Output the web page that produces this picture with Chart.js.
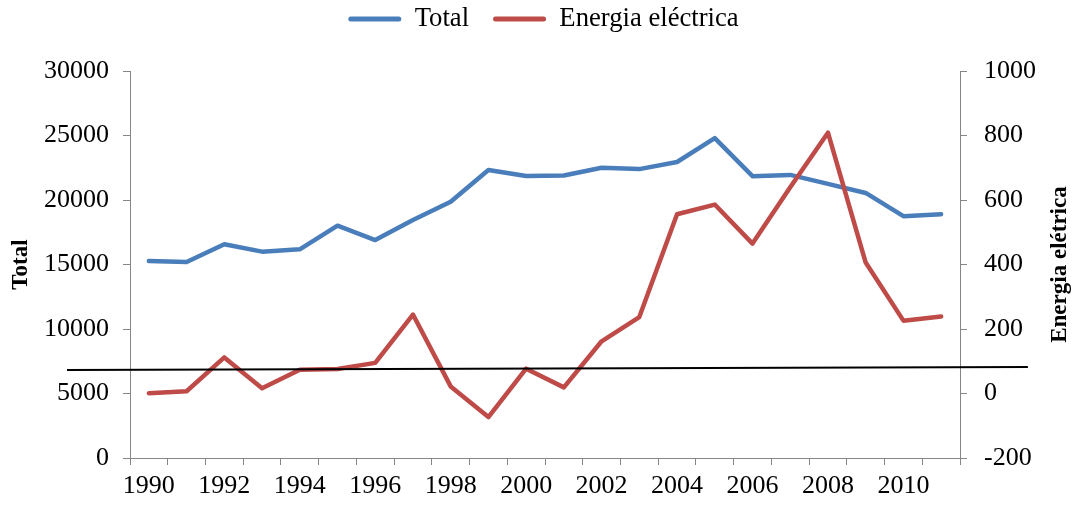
<!DOCTYPE html>
<html>
<head>
<meta charset="utf-8">
<script src="https://cdn.jsdelivr.net/npm/chart.js@4/dist/chart.umd.min.js"></script>
<style>
    html, body { margin: 0; padding: 0; background: #fff; }
    #wrap { width: 1074px; height: 505px; }
</style>
</head>
<body>
<div id="wrap"><canvas id="myChart"></canvas></div>
<script>
const years = ['1990', '1991', '1992', '1993', '1994', '1995', '1996', '1997', '1998', '1999', '2000',
    '2001', '2002', '2003', '2004', '2005', '2006', '2007', '2008', '2009', '2010', '2011'];
const total = [15270, 15190, 16570, 16000, 16180, 18010, 16900, 18450, 19870, 22330, 21860,
    21900, 22500, 22400, 22950, 24800, 21850, 21950, 21250, 20550, 18750, 18900];
const energia = [1, 7, 112, 16, 74, 76, 95, 245, 22, -73, 77,
    19, 162, 237, 556, 586, 465, 640, 809, 406, 226, 239];
// black reference line (x in category index units, y on the Total axis)
const refLineX = [-2.17, 23.3];
const refLineY = [6820, 7050];

const leftTicks = { min: 0, max: 30000, step: 5000 };
const rightTicks = { min: -200, max: 1000, step: 200 };

const serif = 'Liberation Serif, Times New Roman, serif';
const axisGray = '#868686';

// right axis title reads bottom-to-top like the left one
const rightTitle = {
    id: 'rightTitle',
    afterDraw(chart) {
        const ctx = chart.ctx;
        const area = chart.chartArea;
        ctx.save();
        ctx.translate(1060, (area.top + area.bottom) / 2);
        ctx.rotate(-Math.PI / 2);
        ctx.font = 'bold 23px ' + serif;
        ctx.fillStyle = '#000';
        ctx.textAlign = 'center';
        ctx.textBaseline = 'middle';
        ctx.fillText('Energia elétrica', 0, 0);
        ctx.restore();
    }
};

const plainNumber = value => String(value);

document.addEventListener('DOMContentLoaded', function() {
    const ctx = document.querySelector('#myChart').getContext('2d');
    new Chart(ctx, {
        type: 'line',
        data: {
            labels: years,
            datasets: [{
                label: 'Total',
                data: total,
                yAxisID: 'y',
                borderColor: '#4A7EBB',
                backgroundColor: '#4A7EBB',
                borderWidth: 4.5,
                pointRadius: 0,
                borderJoinStyle: 'round',
                borderCapStyle: 'round',
                tension: 0,
                order: 3
            }, {
                label: 'Energia eléctrica',
                data: energia,
                yAxisID: 'y2',
                borderColor: '#BE4B48',
                backgroundColor: '#BE4B48',
                borderWidth: 4.5,
                pointRadius: 0,
                borderJoinStyle: 'round',
                borderCapStyle: 'round',
                tension: 0,
                order: 2
            }, {
                label: 'ref',
                data: refLineX.map((x, i) => ({ x: x, y: refLineY[i] })),
                xAxisID: 'xLine',
                yAxisID: 'y',
                borderColor: '#000',
                borderWidth: 2,
                pointRadius: 0,
                clip: false,
                order: 1
            }]
        },
        options: {
            responsive: true,
            maintainAspectRatio: false,
            animation: false,
            layout: { padding: { top: -18.3, left: 13, right: 0, bottom: 0 } },
            plugins: {
                tooltip: { enabled: false },
                legend: {
                    position: 'top',
                    labels: {
                        font: { family: serif, size: 26.67 },
                        color: '#000',
                        boxWidth: 53,
                        boxHeight: 5,
                        padding: 24,
                        filter: item => item.datasetIndex < 2,
                        sort: (a, b) => a.datasetIndex - b.datasetIndex,
                        generateLabels(chart) {
                            return Chart.defaults.plugins.legend.labels.generateLabels(chart).map(l => {
                                l.lineWidth = 0;
                                l.fillStyle = l.strokeStyle;
                                l.borderRadius = 2.5;
                                return l;
                            });
                        }
                    }
                },
                // empty title used as a spacer between legend and plot
                title: {
                    display: true,
                    text: '',
                    weight: 500,
                    font: { size: 10, lineHeight: 1 },
                    padding: { top: 0, bottom: 18.7 }
                }
            },
            scales: {
                x: {
                    type: 'category',
                    offset: true,
                    afterFit(scale) { scale.height = 47; },
                    grid: {
                        offset: true,
                        drawOnChartArea: false,
                        drawTicks: true,
                        tickLength: 7,
                        color: axisGray
                    },
                    border: { color: axisGray, width: 1 },
                    ticks: {
                        autoSkip: false,
                        maxRotation: 0,
                        padding: 6,
                        color: '#000',
                        font: { family: serif, size: 26 },
                        callback: function(val, i) {
                            return i % 2 === 0 ? this.getLabelForValue(val) : '';
                        }
                    }
                },
                xLine: {
                    type: 'linear',
                    display: false,
                    min: -0.5,
                    max: years.length - 0.5
                },
                y: {
                    position: 'left',
                    min: leftTicks.min,
                    max: leftTicks.max,
                    afterFit(scale) { scale.width = 117; },
                    grid: {
                        drawOnChartArea: false,
                        tickLength: 7,
                        color: axisGray
                    },
                    border: { color: axisGray, width: 1 },
                    ticks: {
                        stepSize: leftTicks.step,
                        padding: 14,
                        color: '#000',
                        font: { family: serif, size: 26 },
                        callback: plainNumber
                    },
                    title: {
                        display: true,
                        text: 'Total',
                        color: '#000',
                        font: { family: serif, size: 23, weight: 'bold' },
                        padding: { top: -6, bottom: 0 }
                    }
                },
                y2: {
                    position: 'right',
                    min: rightTicks.min,
                    max: rightTicks.max,
                    afterFit(scale) { scale.width = 114; },
                    grid: {
                        drawOnChartArea: false,
                        tickLength: 7,
                        color: axisGray
                    },
                    border: { color: axisGray, width: 1 },
                    ticks: {
                        stepSize: rightTicks.step,
                        padding: 17,
                        color: '#000',
                        font: { family: serif, size: 26 },
                        callback: plainNumber
                    }
                }
            }
        },
        plugins: [rightTitle]
    });
});
</script>
</body>
</html>
